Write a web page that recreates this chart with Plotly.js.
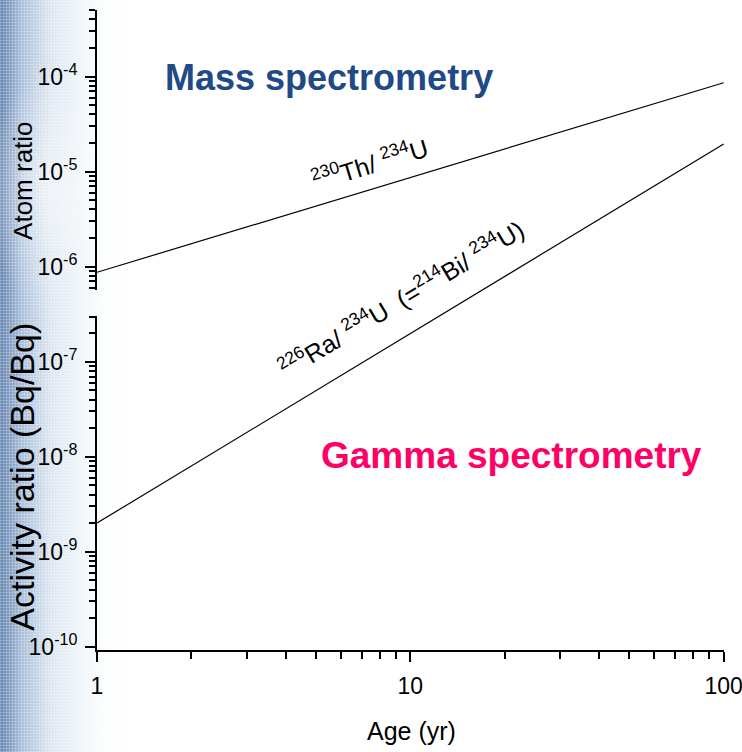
<!DOCTYPE html>
<html>
<head>
<meta charset="utf-8">
<script src="https://cdn.plot.ly/plotly-3.0.1.min.js"></script>
<style>
  html, body { margin: 0; padding: 0; }
  body {
    width: 742px; height: 752px; overflow: hidden;
    background:
      repeating-linear-gradient(90deg, rgba(255,255,255,0.22) 0px, rgba(255,255,255,0.22) 1px, rgba(255,255,255,0) 1px, rgba(255,255,255,0) 3px),
      repeating-linear-gradient(0deg, rgba(255,255,255,0.22) 0px, rgba(255,255,255,0.22) 1px, rgba(255,255,255,0) 1px, rgba(255,255,255,0) 3px),
      radial-gradient(ellipse 60px 120px at 45px 190px, rgba(255,255,255,0.55), rgba(255,255,255,0) 100%),
      linear-gradient(to right, rgba(70,108,160,0.85) 0px, rgba(115,150,195,0.62) 22px, rgba(175,198,222,0.45) 50px, rgba(215,228,240,0.3) 85px, rgba(240,245,250,0.15) 110px, rgba(255,255,255,0) 135px),
      #ffffff;
    background-size: 135px 752px, 135px 752px, 135px 752px, 135px 752px, auto;
    background-repeat: no-repeat;
  }
  #chart { width: 742px; height: 752px; }
</style>
</head>
<body>
<div id="chart"></div>
<script>
// ---- data ----
const ages = [1, 10, 100];                        // Age (yr)
const thU = [8.7e-7, 8.65e-6, 8.6e-5];            // 230Th/234U atom ratio
const raU = [2.0e-9, 1.97e-7, 1.95e-5];           // 226Ra/234U activity ratio

const xTickVals = [1, 10, 100];
const xTickText = ['1', '10', '100'];
const topTickVals = [1e-6, 1e-5, 1e-4];
const topTickText = ['10<sup>-6</sup>', '10<sup>-5</sup>', '10<sup>-4</sup>'];
const botTickVals = [1e-10, 1e-9, 1e-8, 1e-7];
const botTickText = ['10<sup>-10</sup>', '10<sup>-9</sup>', '10<sup>-8</sup>', '10<sup>-7</sup>'];

const thLabel = '<sup>230</sup>Th/ <sup>234</sup>U';
const raLabel = '<sup>226</sup>Ra/ <sup>234</sup>U  (=<sup>214</sup>Bi/ <sup>234</sup>U)';
const topTitle = 'Atom ratio';
const botTitle = 'Activity ratio (Bq/Bq)';
const xTitle = 'Age (yr)';
const massText = 'Mass spectrometry';
const gammaText = 'Gamma spectrometry';

// ---- layout geometry ----
const L = 96.5, R = 724, T = 9.5, B = 650;
const W = R - L, H = B - T;
const px = x => (x - L) / W;
const py = y => (B - y) / H;

const sans = '"Liberation Sans", Arial, sans-serif';

const tickCommon = {
  type: 'log', showline: true, linewidth: 2, linecolor: '#000',
  ticks: 'outside', ticklen: 10, tickwidth: 2, tickcolor: '#000',
  showgrid: false, zeroline: false, tickmode: 'array',
  tickfont: {family: sans, size: 23, color: '#000'},
  ticklabeloverflow: 'allow',
  minor: {dtick: 'D1', ticks: 'outside', ticklen: 6, tickwidth: 2, tickcolor: '#000', showgrid: false},
  fixedrange: true
};

const traces = [
  {x: ages, y: thU, xaxis: 'x', yaxis: 'y2', mode: 'lines', line: {color: '#000', width: 1.2}, hoverinfo: 'skip', showlegend: false},
  {x: ages, y: raU, xaxis: 'x', yaxis: 'y3', mode: 'lines', line: {color: '#000', width: 1.2}, hoverinfo: 'skip', showlegend: false},
  {x: [], y: [], xaxis: 'x', yaxis: 'y', mode: 'lines', hoverinfo: 'skip', showlegend: false}
];

const layout = {
  width: 742, height: 752,
  margin: {l: L, r: 742 - R, t: T, b: 752 - B, pad: 0},
  paper_bgcolor: 'rgba(0,0,0,0)', plot_bgcolor: 'rgba(0,0,0,0)',
  showlegend: false,
  xaxis: Object.assign({}, tickCommon, {
    range: [0, 2.001], anchor: 'y', tickvals: xTickVals, ticktext: xTickText,
    ticklabelstandoff: 4,
    minor: {dtick: 'D1', ticks: 'outside', ticklen: 7, tickwidth: 2, tickcolor: '#000', showgrid: false}
  }),
  yaxis: Object.assign({}, tickCommon, {
    domain: [0, py(316)], range: [-10.035, -6.52], anchor: 'x', ticklabelstandoff: 3,
    tickvals: botTickVals, ticktext: botTickText
  }),
  yaxis2: Object.assign({}, tickCommon, {
    domain: [py(290), 1], range: [-6.25, -3.30], anchor: 'x', ticklabelstandoff: 3,
    tickvals: topTickVals, ticktext: topTickText
  }),
  yaxis3: {type: 'log', domain: [0, 1], range: [-10.035, -3.30], anchor: 'x', visible: false, fixedrange: true},
  annotations: [
    {text: massText, xref: 'paper', yref: 'paper', x: px(329), y: py(77), xanchor: 'center', yanchor: 'middle', showarrow: false,
     font: {family: sans, size: 36, color: '#1f4a86', weight: 'bold'}},
    {text: gammaText, xref: 'paper', yref: 'paper', x: px(511), y: py(455), xanchor: 'center', yanchor: 'middle', showarrow: false,
     font: {family: sans, size: 37, color: '#ff0066', weight: 'bold'}},
    {text: thLabel, xref: 'paper', yref: 'paper', x: px(370), y: py(163), xanchor: 'center', yanchor: 'middle', showarrow: false,
     textangle: -17, font: {family: sans, size: 25, color: '#000'}},
    {text: raLabel, xref: 'paper', yref: 'paper', x: px(401), y: py(298), xanchor: 'center', yanchor: 'middle', showarrow: false,
     textangle: -31, font: {family: sans, size: 25, color: '#000'}},
    {text: topTitle, xref: 'paper', yref: 'paper', x: px(23), y: py(180), xanchor: 'center', yanchor: 'middle', showarrow: false,
     textangle: -90, font: {family: sans, size: 26, color: '#000'}},
    {text: botTitle, xref: 'paper', yref: 'paper', x: px(22), y: py(477), xanchor: 'center', yanchor: 'middle', showarrow: false,
     textangle: -90, font: {family: sans, size: 34, color: '#000'}},
    {text: xTitle, xref: 'paper', yref: 'paper', x: px(411), y: py(731), xanchor: 'center', yanchor: 'middle', showarrow: false,
     font: {family: sans, size: 25, color: '#000'}}
  ]
};

Plotly.newPlot('chart', traces, layout, {staticPlot: true, displayModeBar: false});
</script>
</body>
</html>
